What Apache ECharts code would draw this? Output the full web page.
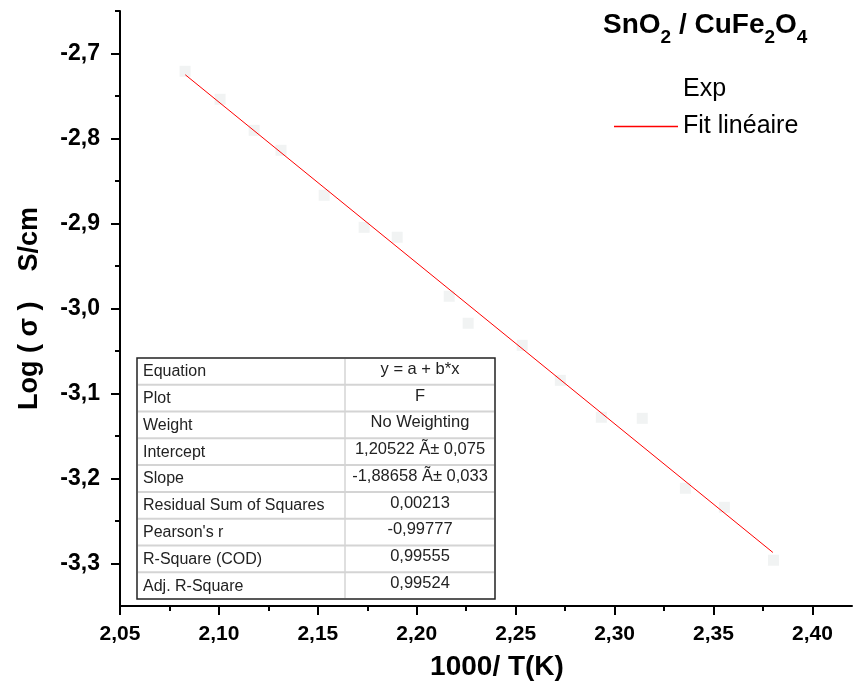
<!DOCTYPE html>
<html lang="fr">
<head>
  <meta charset="UTF-8">
  <script src="https://cdn.jsdelivr.net/npm/echarts/dist/echarts.min.js"></script>
  <title>SnO2 / CuFe2O4</title>
  <style>
    html, body { margin: 0; padding: 0; background: #fff; }
    #chart { width: 853px; height: 690px; }
  </style>
</head>
<body>
  <div id="chart"></div>
  <script>
    // points mesurés (1000/T, log sigma)
    const expX = [2.0829, 2.1006, 2.1178, 2.1314, 2.1532, 2.1734, 2.1901, 2.2164,
                  2.2260, 2.2533, 2.2726, 2.2933, 2.3140, 2.3358, 2.3555, 2.3803];
    const expY = [-2.7209, -2.7539, -2.7904, -2.8139, -2.8668, -2.9045, -2.9162, -2.9856,
                  -3.0174, -3.0433, -3.0845, -3.1280, -3.1292, -3.2115, -3.2339, -3.2962];

    // droite de régression (extrémités)
    const fitX = [2.083, 2.380];
    const fitY = [-2.725, -3.287];

    const xTicks = [2.05, 2.10, 2.15, 2.20, 2.25, 2.30, 2.35, 2.40];
    const xMinor = [2.075, 2.125, 2.175, 2.225, 2.275, 2.325, 2.375];
    const yTicks = [-3.3, -3.2, -3.1, -3.0, -2.9, -2.8, -2.7];
    const yMinor = [-3.25, -3.15, -3.05, -2.95, -2.85, -2.75, -2.65];

    const tableLabels = ['Equation', 'Plot', 'Weight', 'Intercept', 'Slope',
      'Residual Sum of Squares', "Pearson's r", 'R-Square (COD)', 'Adj. R-Square'];
    const tableValues = ['y = a + b*x', 'F', 'No Weighting', '1,20522 Ã± 0,075',
      '-1,88658 Ã± 0,033', '0,00213', '-0,99777', '0,99555', '0,99524'];

    const FONT = "'Liberation Sans', Arial, sans-serif";
    const chart = echarts.init(document.getElementById('chart'));

    // tableau des paramètres du fit
    const tb = { left: 137, top: 358, width: 358, height: 241, col: 345 };
    const rowH = tb.height / tableLabels.length;
    const tableEls = [{
      type: 'rect',
      shape: { x: tb.left, y: tb.top, width: tb.width, height: tb.height },
      style: { fill: '#fff', stroke: '#222', lineWidth: 1.5 },
      z: 10
    }];
    tableLabels.forEach((lab, i) => {
      if (i > 0) {
        tableEls.push({
          type: 'line',
          shape: { x1: tb.left + 1, y1: tb.top + i * rowH, x2: tb.left + tb.width - 1, y2: tb.top + i * rowH },
          style: { stroke: '#d4d4d4', lineWidth: 2 },
          z: 11
        });
      }
      tableEls.push({
        type: 'text', z: 12,
        style: { text: lab, x: tb.left + 6, y: tb.top + (i + 0.52) * rowH, fill: '#222',
          font: '16px ' + FONT, textVerticalAlign: 'middle' }
      });
      tableEls.push({
        type: 'text', z: 12,
        style: { text: tableValues[i], x: (tb.col + tb.left + tb.width) / 2, y: tb.top + (i + 0.42) * rowH,
          fill: '#222', font: '16.5px ' + FONT, textAlign: 'center', textVerticalAlign: 'middle' }
      });
    });
    tableEls.push({
      type: 'line',
      shape: { x1: tb.col, y1: tb.top + 1, x2: tb.col, y2: tb.top + tb.height - 1 },
      style: { stroke: '#d4d4d4', lineWidth: 1.5 },
      z: 11
    });

    const axisCommon = {
      type: 'value',
      splitLine: { show: false },
      axisLine: { show: true, lineStyle: { color: '#000', width: 2 } }
    };

    const option = {
      animation: false,
      backgroundColor: '#fff',
      textStyle: { fontFamily: FONT },
      title: {
        text: '{b|SnO}{s|2}{b| / CuFe}{s|2}{b|O}{s|4}',
        left: 603, top: 3, padding: 0,
        textStyle: {
          rich: {
            b: { fontSize: 28, fontWeight: 'bold', color: '#000', fontFamily: FONT, lineHeight: 44 },
            s: { fontSize: 19, fontWeight: 'bold', color: '#000', fontFamily: FONT, lineHeight: 18, verticalAlign: 'bottom' }
          }
        }
      },
      legend: {
        orient: 'vertical',
        left: 614, top: 77, padding: 0,
        itemWidth: 64, itemHeight: 1.5, itemGap: 12,
        textStyle: { fontSize: 25, color: '#000', fontFamily: FONT, lineHeight: 22 },
        data: [
          { name: 'Exp', icon: 'rect', itemStyle: { opacity: 0 } },
          { name: 'Fit linéaire', icon: 'rect', itemStyle: { color: '#ff0000' } }
        ]
      },
      grid: { left: 120, right: 1, top: 11, bottom: 84 },
      xAxis: [
        Object.assign({}, axisCommon, {
          min: 2.05, max: 2.42, position: 'bottom',
          name: '1000/ T(K)', nameLocation: 'middle', nameGap: 47,
          nameTextStyle: { fontSize: 28, fontWeight: 'bold', color: '#000', fontFamily: FONT, padding: [0, 0, 0, 22] },
          axisTick: { show: true, length: 9, lineStyle: { color: '#000', width: 2 }, customValues: xTicks },
          axisLabel: { margin: 18, fontSize: 21, fontWeight: 'bold', color: '#000', fontFamily: FONT,
            customValues: xTicks, formatter: v => v.toFixed(2).replace('.', ',') }
        }),
        Object.assign({}, axisCommon, {
          min: 2.05, max: 2.42, position: 'bottom',
          axisLine: { show: false },
          axisTick: { show: true, length: 5, lineStyle: { color: '#000', width: 2 }, customValues: xMinor },
          axisLabel: { show: false }
        })
      ],
      yAxis: [
        Object.assign({}, axisCommon, {
          min: -3.35, max: -2.65, position: 'left',
          name: 'Log ( σ )    S/cm', nameLocation: 'middle', nameGap: 77, nameRotate: 90,
          nameTextStyle: { fontSize: 27, fontWeight: 'bold', color: '#000', fontFamily: FONT },
          axisTick: { show: true, length: 9, lineStyle: { color: '#000', width: 2 }, customValues: yTicks },
          axisLabel: { margin: 20, fontSize: 23, fontWeight: 'bold', color: '#000', fontFamily: FONT,
            customValues: yTicks, formatter: v => v.toFixed(1).replace('.', ',') }
        }),
        Object.assign({}, axisCommon, {
          min: -3.35, max: -2.65, position: 'left',
          axisLine: { show: false },
          axisTick: { show: true, length: 5, lineStyle: { color: '#000', width: 2 }, customValues: yMinor },
          axisLabel: { show: false }
        })
      ],
      series: [
        {
          name: 'Exp',
          type: 'scatter',
          symbol: 'rect',
          symbolSize: 11,
          itemStyle: { color: '#eef0f0' },
          data: expX.map((x, i) => [x, expY[i]])
        },
        {
          name: 'Fit linéaire',
          type: 'line',
          symbol: 'none',
          lineStyle: { color: '#ff0000', width: 1 },
          itemStyle: { color: '#ff0000' },
          data: fitX.map((x, i) => [x, fitY[i]])
        }
      ],
      graphic: tableEls
    };

    chart.setOption(option);
  </script>
</body>
</html>
